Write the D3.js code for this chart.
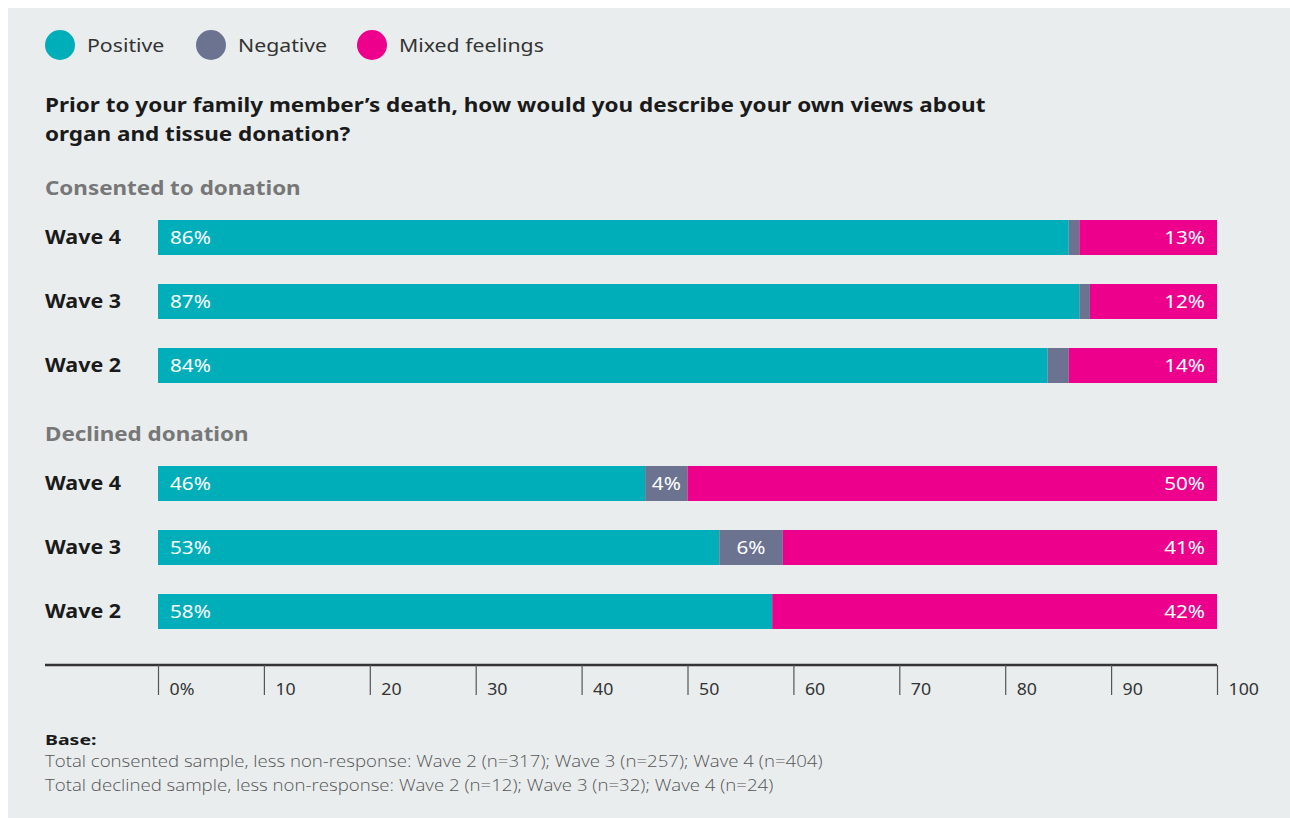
<!DOCTYPE html>
<html>
<head>
<meta charset="utf-8">
<script src="https://cdn.jsdelivr.net/npm/d3@7"></script>
<style>
  html, body { margin: 0; padding: 0; background: #ffffff; }
  svg { display: block; font-family: "Noto Sans", "Open Sans", sans-serif; }
</style>
</head>
<body>
<div id="chart"></div>
<script>
// Series + categories
const seriesNames = ['Positive', 'Negative', 'Mixed feelings'];
const seriesColors = ['#00aeba', '#6c7391', '#ec008c'];
const waves = ['Wave 4', 'Wave 3', 'Wave 2'];

const consentedPositive = [86, 87, 84];
const consentedNegative = [1, 1, 2];
const consentedMixed = [13, 12, 14];

const declinedPositive = [46, 53, 58];
const declinedNegative = [4, 6, 0];
const declinedMixed = [50, 41, 42];

const groupTitles = ['Consented to donation', 'Declined donation'];
const tickValues = [0, 10, 20, 30, 40, 50, 60, 70, 80, 90, 100];

const titleLines = [
  'Prior to your family member\u2019s death, how would you describe your own views about',
  'organ and tissue donation?'
];
const baseLines = [
  'Total consented sample, less non-response: Wave 2 (n=317); Wave 3 (n=257); Wave 4 (n=404)',
  'Total declined sample, less non-response: Wave 2 (n=12); Wave 3 (n=32); Wave 4 (n=24)'
];

const width = 1290, height = 818;
// the source type is wide, so stretch text horizontally
const SX = 1.12;
const at = (x, y, sx = SX) => `translate(${x},${y}) scale(${sx},1)`;

const svg = d3.select('#chart').append('svg')
  .attr('width', width)
  .attr('height', height);

// panel background
svg.append('rect')
  .attr('x', 8).attr('y', 8)
  .attr('width', width - 8).attr('height', height - 8)
  .attr('fill', '#e9edee');

// legend
const legendX = [60, 211, 372];
const legend = svg.append('g');
seriesNames.forEach((name, i) => {
  legend.append('circle')
    .attr('cx', legendX[i]).attr('cy', 45).attr('r', 15)
    .attr('fill', seriesColors[i]);
  legend.append('text')
    .attr('transform', at(legendX[i] + 27, 52))
    .attr('font-size', 19)
    .attr('fill', '#333')
    .text(name);
});

// title
svg.append('g').selectAll('text')
  .data(titleLines)
  .join('text')
  .attr('transform', (d, i) => at(45, 112 + i * 29, 1.125))
  .attr('font-size', 20)
  .attr('font-weight', 700)
  .attr('fill', '#1a1a1a')
  .text(d => d);

const x = d3.scaleLinear().domain([0, 100]).range([158, 1217]);

const groups = [
  { title: groupTitles[0], top: 220, titleY: 195,
    pos: consentedPositive, neg: consentedNegative, mix: consentedMixed },
  { title: groupTitles[1], top: 466, titleY: 441,
    pos: declinedPositive, neg: declinedNegative, mix: declinedMixed }
];

const barH = 35, rowStep = 64;

groups.forEach(g => {
  svg.append('text')
    .attr('transform', at(45, g.titleY))
    .attr('font-size', 20)
    .attr('font-weight', 700)
    .attr('fill', '#777')
    .text(g.title);

  const y = d3.scaleBand()
    .domain(waves)
    .range([g.top, g.top + rowStep * (waves.length - 1) + barH])
    .paddingInner((rowStep - barH) / rowStep)
    .paddingOuter(0);

  const rows = waves.map((w, i) => {
    const vals = [g.pos[i], g.neg[i], g.mix[i]];
    let acc = 0;
    return vals.map((v, k) => {
      const seg = { wave: w, k, v, x0: acc, x1: acc + v };
      acc += v;
      return seg;
    });
  });

  const gg = svg.append('g');

  gg.selectAll('text.wave')
    .data(waves)
    .join('text')
    .attr('class', 'wave')
    .attr('transform', d => at(45, y(d) + y.bandwidth() / 2, 1.13))
    .attr('dy', '0.35em')
    .attr('font-size', 19)
    .attr('font-weight', 700)
    .attr('fill', '#1a1a1a')
    .text(d => d);

  const segs = rows.flat();

  gg.selectAll('rect')
    .data(segs.filter(d => d.v > 0))
    .join('rect')
    .attr('x', d => x(d.x0))
    .attr('y', d => y(d.wave))
    .attr('width', d => x(d.x1) - x(d.x0))
    .attr('height', y.bandwidth())
    .attr('fill', d => seriesColors[d.k]);

  gg.selectAll('text.val')
    .data(segs.filter(d => d.v > 0 && (x(d.x1) - x(d.x0)) > 30))
    .join('text')
    .attr('class', 'val')
    .attr('transform', d => {
      const px = d.k === 0 ? x(d.x0) + 12 : d.k === 2 ? x(d.x1) - 12 : (x(d.x0) + x(d.x1)) / 2;
      return at(px, y(d.wave) + y.bandwidth() / 2, 1.15);
    })
    .attr('text-anchor', d => d.k === 0 ? 'start' : d.k === 2 ? 'end' : 'middle')
    .attr('dy', '0.35em')
    .attr('font-size', 18)
    .attr('fill', '#fff')
    .text(d => d.v + '%');
});

// axis
const axisY = 665;
svg.append('line')
  .attr('x1', 45).attr('x2', x(100))
  .attr('y1', axisY).attr('y2', axisY)
  .attr('stroke', '#333').attr('stroke-width', 2.5);

const axis = d3.axisBottom(x)
  .tickValues(tickValues)
  .tickSize(30)
  .tickFormat(d => d === 0 ? '0%' : d);

const ax = svg.append('g')
  .attr('transform', `translate(0,${axisY})`)
  .call(axis);
ax.select('.domain').remove();
ax.selectAll('.tick line').attr('stroke', '#555').attr('stroke-width', 1.2);
ax.selectAll('.tick text')
  .attr('x', null).attr('y', null).attr('dy', '0.35em')
  .attr('transform', at(11, 24, 1.11))
  .attr('text-anchor', 'start')
  .attr('font-size', 16)
  .attr('font-family', '"Noto Sans", sans-serif')
  .attr('fill', '#333');

// base note
svg.append('text')
  .attr('transform', at(45, 745, 1.3))
  .attr('font-size', 15)
  .attr('font-weight', 700)
  .attr('fill', '#1a1a1a')
  .text('Base:');

svg.append('g').selectAll('text')
  .data(baseLines)
  .join('text')
  .attr('transform', (d, i) => at(45, 767 + i * 24, 1.165))
  .attr('font-size', 16)
  .attr('font-weight', 300)
  .attr('fill', '#555')
  .attr('font-family', '"Open Sans", sans-serif')
  .text(d => d);
</script>
</body>
</html>
